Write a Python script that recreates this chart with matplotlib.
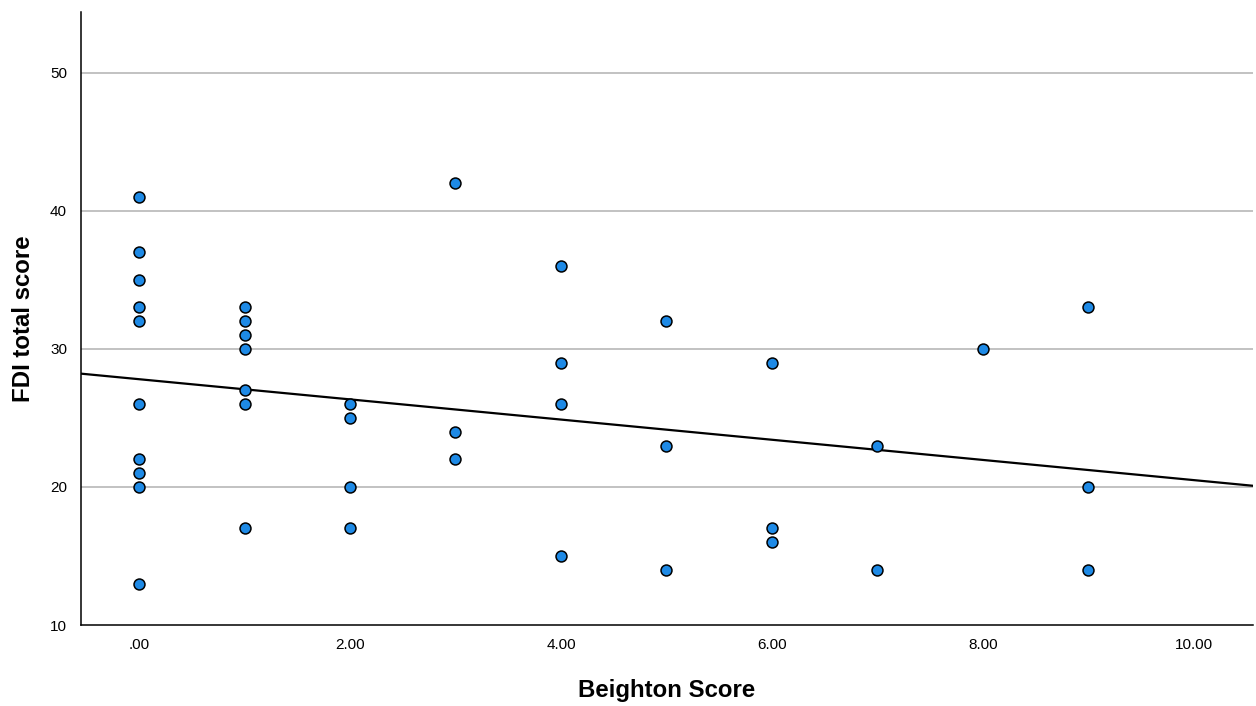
import numpy as np
import matplotlib
matplotlib.use('Agg')
import matplotlib.pyplot as plt

plt.rcParams['font.family'] = ['Liberation Sans', 'DejaVu Sans']

# Beighton score vs FDI total score
beighton = [0, 0, 0, 0, 0, 0, 0, 0, 0, 0,
            1, 1, 1, 1, 1, 1, 1,
            2, 2, 2, 2,
            3, 3, 3,
            4, 4, 4, 4,
            5, 5, 5,
            6, 6, 6,
            7, 7,
            8,
            9, 9, 9]
fdi = [41, 37, 35, 33, 32, 26, 22, 21, 20, 13,
       33, 32, 31, 30, 27, 26, 17,
       26, 25, 20, 17,
       42, 24, 22,
       36, 29, 26, 15,
       32, 23, 14,
       29, 17, 16,
       23, 14,
       30,
       33, 20, 14]

x_ticks = [0, 2, 4, 6, 8, 10]
x_tick_labels = ['.00', '2.00', '4.00', '6.00', '8.00', '10.00']
y_ticks = [10, 20, 30, 40, 50]

fig = plt.figure(figsize=(12.56, 7.06), dpi=100)
ax = fig.add_axes([0.0645, 0.1147, 0.9331, 0.8683])

xlim = (-0.55, 10.56)
ylim = (10, 54.4)

# linear fit line
slope, intercept = np.polyfit(beighton, fdi, 1)
xs = np.array(xlim)
ax.plot(xs, intercept + slope * xs, color='black', lw=1.6, zorder=2)

ax.scatter(beighton, fdi, s=62, color='#1e8ae6', edgecolors='black',
           linewidths=1.1, zorder=3)

for y in y_ticks[1:]:
    ax.axhline(y, color='#bdbdbd', lw=1.3, zorder=1)

ax.set_xlim(*xlim)
ax.set_ylim(*ylim)
ax.set_xticks(x_ticks)
ax.set_xticklabels(x_tick_labels)
ax.set_yticks(y_ticks)
ax.tick_params(length=0, labelsize=11, pad=9)
ax.tick_params(axis='y', pad=10)

for side in ['top', 'right']:
    ax.spines[side].set_visible(False)
for side in ['left', 'bottom']:
    ax.spines[side].set_linewidth(1.1)

ax.set_xlabel('Beighton Score', fontsize=17.3, fontweight='bold', labelpad=20)
ax.set_ylabel('FDI total score', fontsize=17.3, fontweight='bold', labelpad=11)

fig.savefig('out.png', dpi=100)
